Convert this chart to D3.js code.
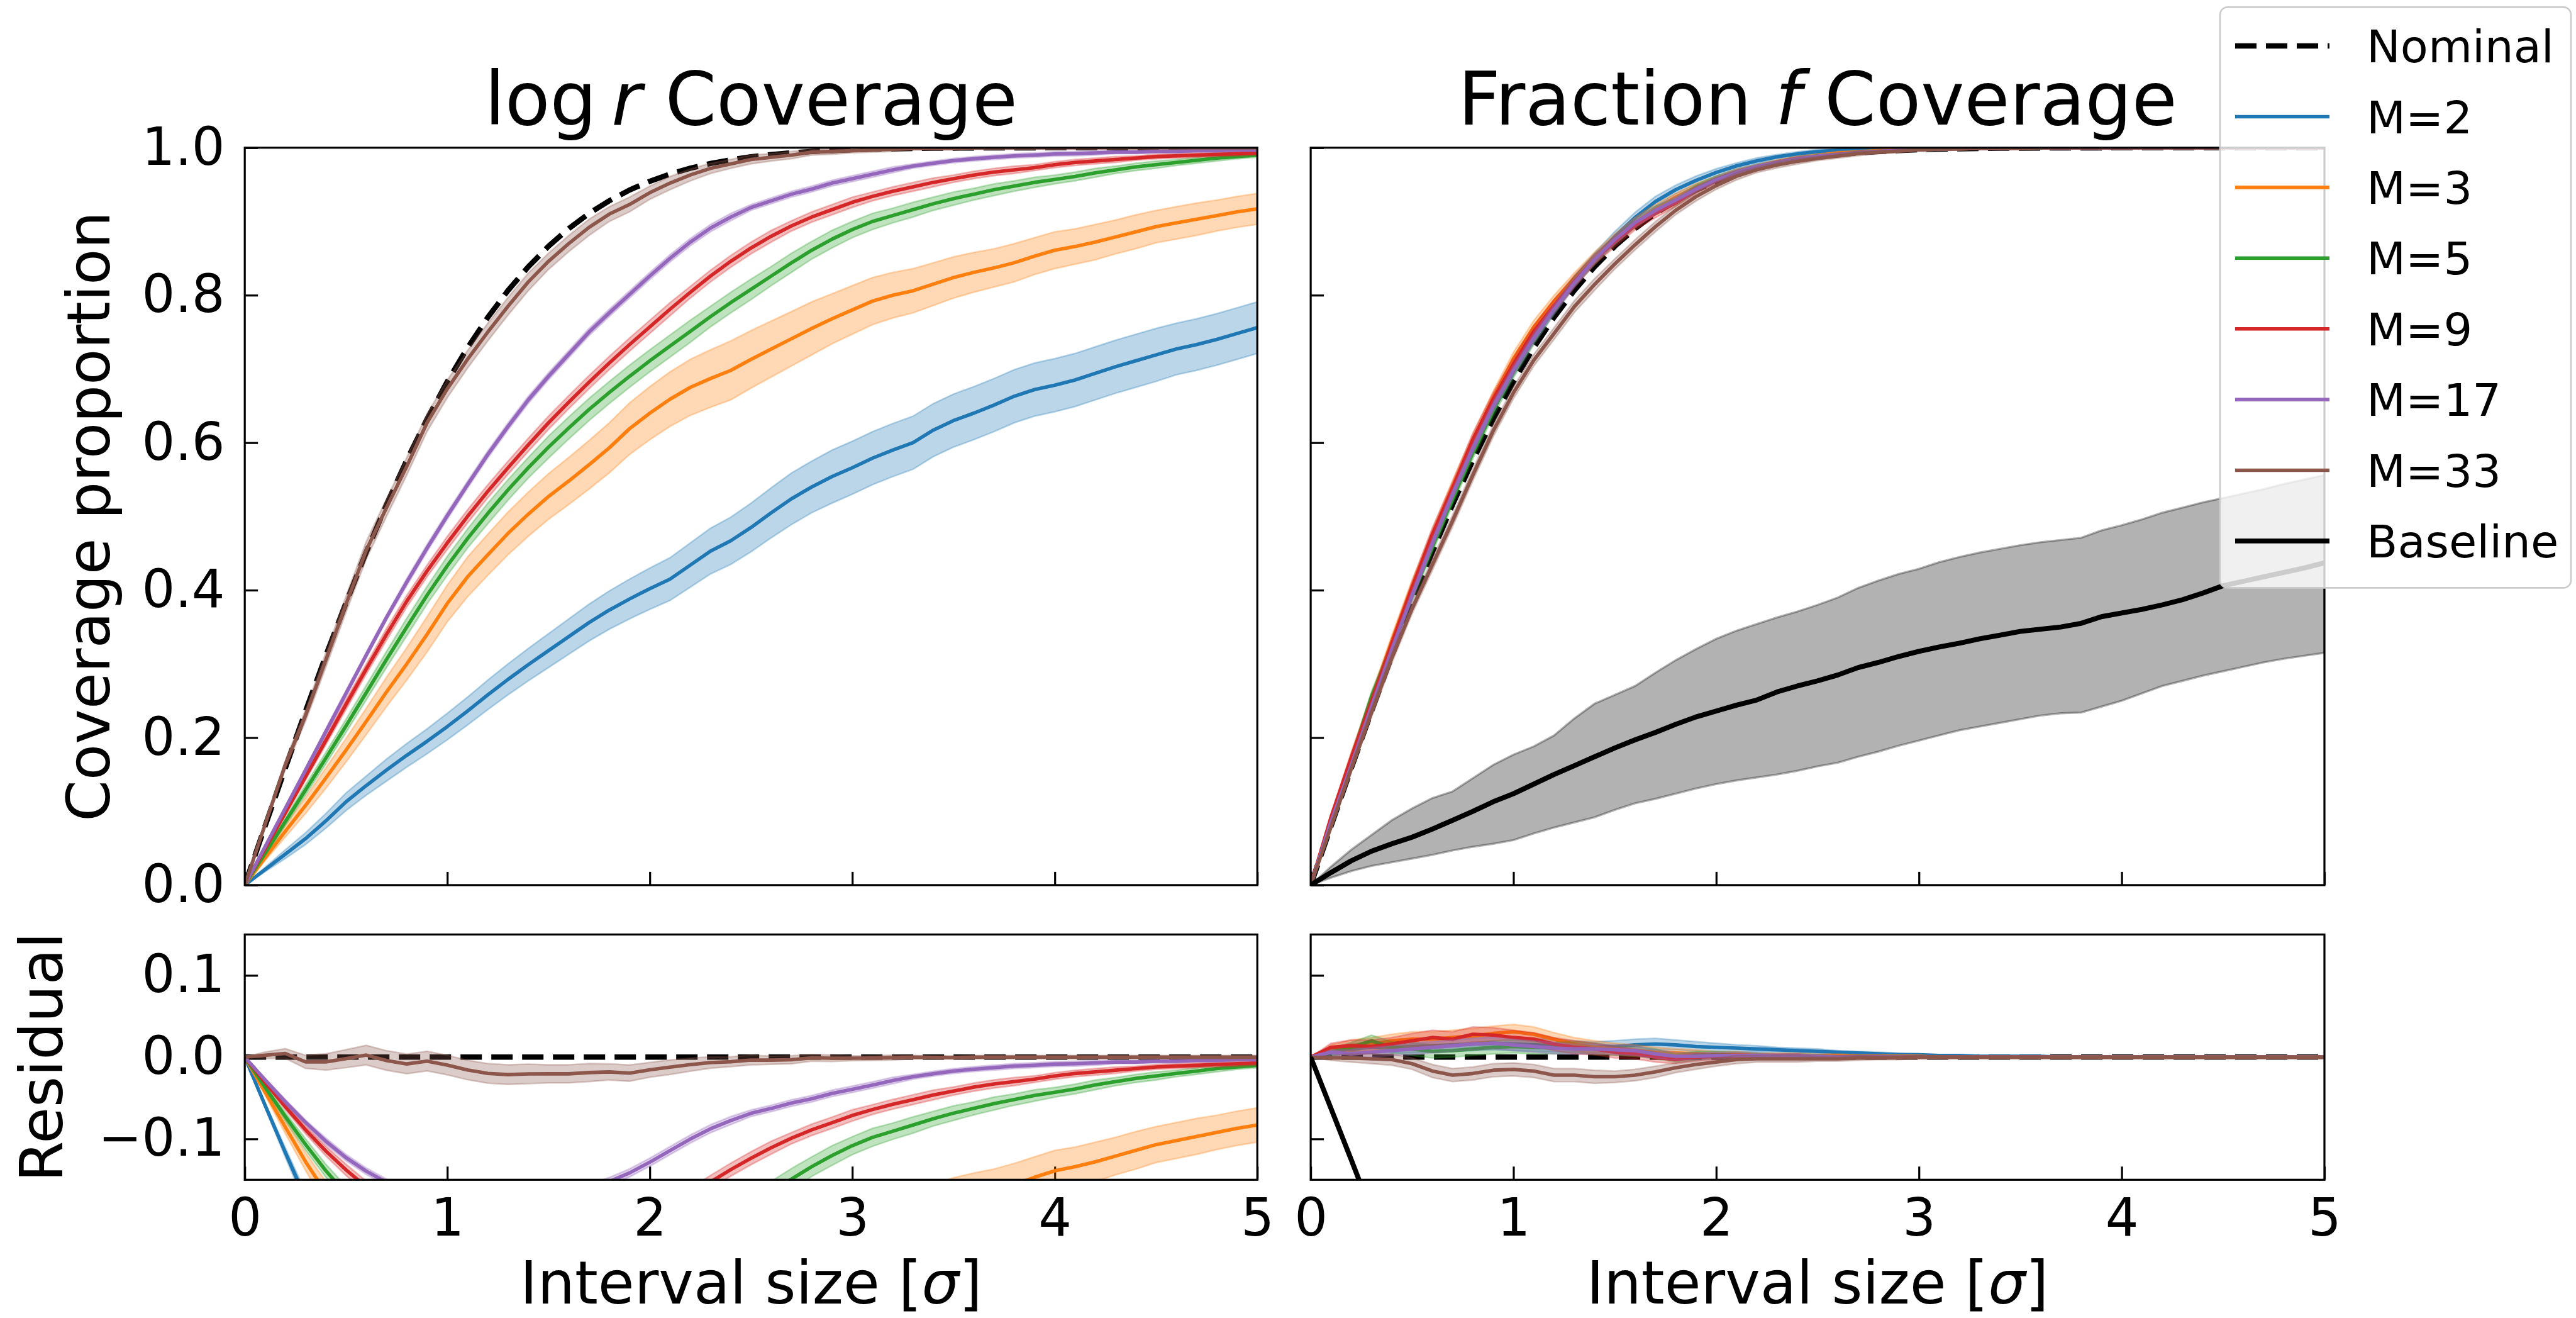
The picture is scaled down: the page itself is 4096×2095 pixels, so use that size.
<!DOCTYPE html>
<html><head><meta charset="utf-8">
<script src="https://cdn.jsdelivr.net/npm/d3@7"></script>
<style>html,body{margin:0;padding:0;background:#fff;} svg{display:block;} text{white-space:pre;}</style>
</head><body>
<svg id="chart" width="4096" height="2095"></svg>
<script>
// ---------------- DATA ----------------
const sigma = [0,0.1,0.2,0.3,0.4,0.5,0.6,0.7,0.8,0.9,1,1.1,1.2,1.3,1.4,1.5,1.6,1.7,1.8,1.9,2,2.1,2.2,2.3,2.4,2.5,2.6,2.7,2.8,2.9,3,3.1,3.2,3.3,3.4,3.5,3.6,3.7,3.8,3.9,4,4.1,4.2,4.3,4.4,4.5,4.6,4.7,4.8,4.9,5];
const xTicks = [0,1,2,3,4,5];
const yTicksMain = [0,0.2,0.4,0.6,0.8,1.0];
const yTicksRes = [-0.1,0,0.1];

const seriesNames = ["M=2","M=3","M=5","M=9","M=17","M=33"];
const seriesColors = ["#1f77b4","#ff7f0e","#2ca02c","#d62728","#9467bd","#8c564b"];

const nominal = [0,.0797,.1585,.2358,.3108,.3829,.4515,.5161,.5763,.6319,.6827,.7287,.7699,.8064,.8385,.8664,.8904,.9109,.9281,.9426,.9545,.9643,.9722,.9786,.9836,.9876,.9907,.9931,.9949,.9963,.9973,.9981,.9986,.9990,.9993,.9995,.9997,.9998,.9999,.9999,1,1,1,1,1,1,1,1,1,1,1];

// log r coverage (left panel)
const logrM2  = [0,.021,.042,.063,.087,.113,.135,.156,.176,.195,.215,.236,.258,.279,.299,.318,.337,.356,.373,.388,.402,.415,.434,.453,.467,.485,.505,.524,.540,.554,.566,.579,.590,.600,.617,.630,.640,.651,.663,.672,.678,.685,.694,.703,.711,.719,.727,.733,.740,.748,.756];
const logrM3  = [0,.037,.073,.108,.145,.183,.222,.262,.300,.340,.382,.418,.448,.477,.503,.527,.548,.570,.593,.619,.640,.659,.675,.687,.698,.713,.727,.741,.755,.768,.780,.792,.800,.806,.815,.824,.831,.837,.844,.853,.861,.866,.872,.879,.886,.893,.898,.903,.908,.913,.917];
const logrM5  = [0,.043,.086,.129,.172,.216,.261,.306,.350,.393,.433,.470,.504,.536,.566,.594,.620,.645,.668,.690,.711,.731,.751,.771,.790,.808,.826,.844,.861,.876,.889,.900,.908,.916,.924,.931,.937,.943,.948,.953,.957,.961,.966,.970,.974,.977,.980,.983,.986,.988,.990];
const logrM9  = [0,.049,.098,.147,.196,.245,.293,.340,.385,.426,.464,.500,.534,.566,.597,.627,.655,.682,.708,.733,.757,.781,.804,.826,.846,.864,.880,.894,.906,.916,.926,.934,.941,.947,.953,.958,.963,.967,.970,.973,.977,.980,.982,.984,.986,.988,.989,.990,.991,.992,.993];
const logrM17 = [0,.052,.104,.156,.208,.260,.312,.363,.411,.457,.501,.543,.584,.622,.658,.690,.720,.750,.776,.801,.826,.850,.872,.891,.906,.919,.928,.937,.944,.952,.958,.964,.970,.975,.979,.9825,.985,.987,.989,.990,.9915,.992,.993,.994,.994,.995,.995,.996,.996,.997,.997];
const logrM33 = [0,.082,.163,.230,.305,.381,.454,.512,.568,.627,.673,.713,.750,.785,.818,.846,.870,.892,.910,.923,.939,.952,.963,.972,.978,.984,.987,.990,.994,.995,.996,.997,.998,.999,.999,.999,.9997,.9998,.9999,.9999,1,1,1,1,1,1,1,1,1,1,1];

// half-widths of the shaded bands (left panel)
const logrBandM2  = [0,.003,.006,.008,.010,.012,.013,.015,.016,.017,.018,.019,.020,.021,.022,.023,.024,.025,.026,.027,.028,.029,.030,.031,.032,.033,.034,.035,.035,.036,.036,.036,.036,.036,.036,.036,.036,.036,.036,.036,.036,.036,.036,.036,.036,.036,.035,.035,.035,.035,.035];
const logrBandM3  = [0,.004,.008,.011,.014,.016,.018,.020,.022,.024,.025,.027,.028,.029,.030,.031,.032,.033,.034,.035,.036,.037,.038,.039,.040,.039,.038,.037,.036,.034,.033,.032,.031,.030,.029,.028,.027,.026,.026,.025,.025,.024,.024,.023,.023,.022,.022,.022,.021,.021,.021];
const logrBandM5  = [0,.003,.005,.007,.008,.009,.010,.011,.012,.012,.013,.013,.014,.014,.014,.015,.015,.015,.015,.015,.015,.015,.015,.014,.014,.014,.013,.013,.012,.012,.011,.011,.010,.010,.009,.009,.008,.008,.007,.007,.006,.006,.006,.005,.005,.005,.004,.004,.004,.003,.003];
const logrBandM9  = [0,.002,.004,.005,.006,.007,.007,.008,.008,.008,.009,.009,.009,.009,.009,.009,.009,.009,.009,.009,.009,.009,.008,.008,.008,.008,.008,.007,.007,.007,.007,.006,.006,.006,.006,.005,.005,.005,.005,.004,.004,.004,.004,.004,.003,.003,.003,.003,.003,.003,.003];
const logrBandM17 = [0,.002,.003,.003,.004,.004,.004,.004,.005,.005,.005,.005,.005,.005,.005,.005,.005,.005,.005,.005,.005,.005,.005,.005,.005,.004,.004,.004,.004,.004,.004,.004,.004,.003,.003,.003,.003,.003,.003,.003,.003,.003,.003,.002,.002,.002,.002,.002,.002,.002,.002];
const logrBandM33 = [0,.004,.006,.008,.010,.011,.012,.012,.012,.012,.012,.012,.012,.012,.012,.011,.011,.011,.010,.010,.009,.009,.008,.007,.006,.006,.005,.005,.004,.004,.003,.003,.003,.002,.002,.002,.002,.002,.002,.002,.002,.002,.002,.002,.002,.002,.002,.002,.002,.002,.002];

// fraction f: residual from nominal (coverage = nominal + residual)
const fracResM2  = [0,.006,.010,.012,.012,.013,.014,.015,.016,.017,.016,.015,.014,.013,.012,.013,.015,.016,.015,.013,.012,.011,.010,.009,.008,.007,.006,.005,.004,.003,.003,.002,.002,.001,.001,.001,.001,0,0,0,0,0,0,0,0,0,0,0,0,0,0];
const fracResM3  = [0,.010,.014,.016,.020,.022,.022,.024,.026,.029,.031,.028,.022,.016,.012,.010,.008,.006,.005,.004,.003,.003,.002,.002,.002,.002,.002,.001,.001,.001,.001,0,0,0,0,0,0,0,0,0,0,0,0,0,0,0,0,0,0,0,0];
const fracResM5  = [0,.006,.012,.020,.012,.010,.007,.008,.010,.012,.013,.012,.011,.012,.010,.008,.007,.004,-.001,.002,.003,.002,.002,.001,.001,.001,0,0,0,0,0,0,0,0,0,0,0,0,0,0,0,0,0,0,0,0,0,0,0,0,0];
const fracResM9  = [0,.012,.014,.013,.016,.020,.024,.022,.028,.027,.024,.022,.016,.012,.010,.006,.004,.000,-.003,.000,.001,.001,.001,.001,.001,0,0,0,0,0,0,0,0,0,0,0,0,0,0,0,0,0,0,0,0,0,0,0,0,0,0];
const fracResM17 = [0,.006,.004,.006,.008,.010,.012,.014,.016,.017,.015,.013,.011,.010,.010,.009,.008,.004,.001,.001,.002,.002,.002,.001,.001,.001,0,0,0,0,0,0,0,0,0,0,0,0,0,0,0,0,0,0,0,0,0,0,0,0,0];
const fracResM33 = [0,-.001,-.001,-.002,-.003,-.008,-.017,-.022,-.020,-.016,-.015,-.017,-.022,-.022,-.024,-.024,-.022,-.018,-.013,-.009,-.006,-.003,-.002,-.002,-.002,-.002,-.002,-.001,-.001,-.001,0,0,0,0,0,0,0,0,0,0,0,0,0,0,0,0,0,0,0,0,0];

const fracBandM2  = [0,.004,.006,.007,.007,.008,.008,.008,.008,.008,.008,.008,.008,.007,.007,.007,.007,.007,.006,.006,.005,.004,.004,.003,.003,.003,.002,.002,.002,.002,.001,.001,.001,.001,.001,.001,0,0,0,0,0,0,0,0,0,0,0,0,0,0,0];
const fracBandM3  = [0,.005,.007,.008,.008,.009,.009,.009,.009,.009,.009,.009,.008,.008,.008,.007,.007,.006,.005,.005,.004,.004,.003,.003,.003,.002,.002,.002,.002,.001,.001,.001,.001,.001,0,0,0,0,0,0,0,0,0,0,0,0,0,0,0,0,0];
const fracBandM5  = [0,.004,.006,.007,.007,.008,.008,.008,.008,.008,.008,.008,.007,.007,.007,.006,.006,.006,.005,.005,.004,.004,.003,.003,.003,.002,.002,.002,.002,.001,.001,.001,.001,0,0,0,0,0,0,0,0,0,0,0,0,0,0,0,0,0,0];
const fracBandM9  = [0,.005,.007,.008,.008,.009,.009,.009,.009,.009,.009,.008,.008,.008,.007,.007,.006,.006,.005,.005,.004,.004,.003,.003,.003,.002,.002,.002,.002,.001,.001,.001,.001,0,0,0,0,0,0,0,0,0,0,0,0,0,0,0,0,0,0];
const fracBandM17 = [0,.003,.005,.006,.006,.007,.007,.007,.007,.007,.007,.007,.007,.006,.006,.006,.006,.005,.005,.004,.004,.004,.003,.003,.003,.002,.002,.002,.002,.001,.001,.001,.001,0,0,0,0,0,0,0,0,0,0,0,0,0,0,0,0,0,0];
const fracBandM33 = [0,.003,.005,.006,.007,.007,.008,.008,.008,.008,.008,.008,.008,.008,.008,.007,.007,.007,.006,.006,.005,.005,.004,.004,.004,.003,.003,.003,.002,.002,.002,.002,.001,.001,.001,0,0,0,0,0,0,0,0,0,0,0,0,0,0,0,0];

// baseline (fraction f panel)
const baseline   = [0,.017,.033,.046,.056,.065,.076,.088,.100,.113,.124,.137,.150,.162,.174,.186,.197,.207,.218,.228,.236,.244,.251,.262,.270,.277,.285,.295,.302,.310,.317,.323,.328,.334,.339,.344,.347,.350,.355,.364,.369,.374,.380,.387,.396,.406,.412,.418,.424,.430,.437];
const baselineHi = [0,.025,.048,.068,.088,.104,.118,.127,.145,.163,.177,.188,.203,.226,.246,.258,.270,.288,.305,.320,.334,.345,.354,.363,.371,.380,.390,.403,.413,.422,.429,.438,.445,.451,.456,.461,.465,.468,.471,.481,.488,.496,.505,.512,.519,.525,.531,.537,.544,.550,.556];
const baselineLo = [0,.010,.019,.026,.031,.036,.041,.047,.052,.056,.061,.070,.078,.085,.092,.102,.111,.117,.124,.131,.137,.142,.146,.150,.155,.161,.166,.174,.181,.189,.196,.203,.210,.215,.220,.225,.230,.233,.234,.242,.250,.260,.270,.277,.284,.290,.296,.302,.307,.311,.315];

// ---------------- DRAWING ----------------
const FONT = "'DejaVu Sans', 'Liberation Sans', sans-serif";
const LW = 5.6, NOMW = 8.5, BASEW = 7.9, SPW = 3.2, TICKL = 21, TICKW = 3.2;
const FS_TICK = 83, FS_LABEL = 94, FS_TITLE = 117, FS_LEG = 72;

const svg = d3.select('#chart');
svg.append('rect').attr('width',4096).attr('height',2095).attr('fill','#fff');
const defs = svg.append('defs');

const xLeft  = d3.scaleLinear().domain([0,5]).range([389.2,1999.2]);
const xRight = d3.scaleLinear().domain([0,5]).range([2084.1,3696]);
const yTop   = d3.scaleLinear().domain([0,1]).range([1406.9,234.8]);
const yBot   = d3.scaleLinear().domain([-0.15,0.15]).range([1875.3,1485.4]);

const logrCov  = [logrM2,logrM3,logrM5,logrM9,logrM17,logrM33];
const logrBand = [logrBandM2,logrBandM3,logrBandM5,logrBandM9,logrBandM17,logrBandM33];
const fracRes  = [fracResM2,fracResM3,fracResM5,fracResM9,fracResM17,fracResM33];
const fracBand = [fracBandM2,fracBandM3,fracBandM5,fracBandM9,fracBandM17,fracBandM33];
const fracCov  = fracRes.map(r => r.map((v,i) => nominal[i] + v));

let clipN = 0;
function makePanel(x, y, yTicks, showYLabels, showXLabels) {
  const [x0,x1] = x.range(); const [yb,yt] = y.range();
  const id = 'clip' + (clipN++);
  defs.append('clipPath').attr('id', id).append('rect')
    .attr('x', x0).attr('y', yt).attr('width', x1 - x0).attr('height', yb - yt);
  const g = svg.append('g');
  const ay = d3.axisLeft(y).tickValues(yTicks).tickSizeInner(-TICKL).tickSizeOuter(0).tickPadding(31.6)
    .tickFormat(showYLabels ? d3.format('.1f') : () => '');
  const gy = g.append('g').attr('transform', `translate(${x0},0)`).call(ay);
  const ax = d3.axisBottom(x).tickValues(xTicks).tickSizeInner(-TICKL).tickSizeOuter(0).tickPadding(30)
    .tickFormat(showXLabels ? d3.format('d') : () => '');
  const gx = g.append('g').attr('transform', `translate(0,${yb})`).call(ax);
  [gx, gy].forEach(a => {
    a.select('.domain').remove();
    a.attr('font-family', FONT).attr('font-size', FS_TICK);
    a.selectAll('line').attr('stroke', '#000').attr('stroke-width', TICKW);
    a.selectAll('text').attr('fill', '#000');
  });
  const plot = g.append('g').attr('clip-path', `url(#${id})`);
  return {g, plot, x, y, x0, x1, yb, yt};
}
function finishPanel(p) {
  p.g.append('rect').attr('x', p.x0).attr('y', p.yt).attr('width', p.x1 - p.x0).attr('height', p.yb - p.yt)
    .attr('fill', 'none').attr('stroke', '#000').attr('stroke-width', SPW);
}
function lineGen(p, fn) {
  return d3.line().x((d,i) => p.x(sigma[i])).y((d,i) => p.y(fn(d,i)));
}
function areaGen(p, lo, hi) {
  return d3.area().x((d,i) => p.x(sigma[i])).y0((d,i) => p.y(lo(d,i))).y1((d,i) => p.y(hi(d,i)));
}
function drawNominal(p, residual) {
  p.plot.append('path').datum(nominal)
    .attr('d', lineGen(p, (d) => residual ? d - d : d))
    .attr('fill', 'none').attr('stroke', '#000').attr('stroke-width', NOMW)
    .attr('stroke-dasharray', '34,15');
}
function drawSeries(p, covs, bands, residual) {
  covs.forEach((c, k) => {
    const col = seriesColors[k];
    const off = (i) => residual ? nominal[i] : 0;
    p.plot.append('path').datum(c)
      .attr('d', areaGen(p, (d,i) => d - bands[k][i] - off(i), (d,i) => d + bands[k][i] - off(i)))
      .attr('fill', col).attr('fill-opacity', 0.3)
      .attr('stroke', col).attr('stroke-opacity', 0.3).attr('stroke-width', 2.5);
    p.plot.append('path').datum(c)
      .attr('d', lineGen(p, (d,i) => d - off(i)))
      .attr('fill', 'none').attr('stroke', col).attr('stroke-width', LW).attr('stroke-linejoin','round');
  });
}
function drawBaseline(p, residual) {
  if (!residual) {
    p.plot.append('path').datum(baseline)
      .attr('d', areaGen(p, (d,i) => baselineLo[i], (d,i) => baselineHi[i]))
      .attr('fill', '#000').attr('fill-opacity', 0.3)
      .attr('stroke', '#000').attr('stroke-opacity', 0.3).attr('stroke-width', 3.4);
  }
  p.plot.append('path').datum(baseline)
    .attr('d', lineGen(p, (d,i) => residual ? d - nominal[i] : d))
    .attr('fill', 'none').attr('stroke', '#000').attr('stroke-width', BASEW).attr('stroke-linejoin','round');
}

const pTL = makePanel(xLeft, yTop, yTicksMain, true, false);
drawNominal(pTL, false); drawSeries(pTL, logrCov, logrBand, false); finishPanel(pTL);

const pTR = makePanel(xRight, yTop, yTicksMain, false, false);
drawNominal(pTR, false); drawSeries(pTR, fracCov, fracBand, false); drawBaseline(pTR, false); finishPanel(pTR);

const pBL = makePanel(xLeft, yBot, yTicksRes, true, true);
drawNominal(pBL, true); drawSeries(pBL, logrCov, logrBand, true); finishPanel(pBL);

const pBR = makePanel(xRight, yBot, yTicksRes, false, true);
drawNominal(pBR, true); drawSeries(pBR, fracCov, fracBand, true); drawBaseline(pBR, true); finishPanel(pBR);

function title(cx, parts) {
  const t = svg.append('text').attr('x', cx).attr('y', 198).attr('text-anchor', 'middle')
    .attr('font-family', FONT).attr('font-size', FS_TITLE).attr('fill', '#000');
  parts.forEach(([s, it]) => t.append('tspan').text(s).attr('font-style', it ? 'italic' : 'normal'));
}
title((389.2 + 1999.2) / 2, [["log\u2009", false], ["r", true], [" Coverage", false]]);
title((2084.1 + 3696) / 2, [["Fraction ", false], ["f", true], [" Coverage", false]]);

function ylabel(x, y, s) {
  svg.append('text').attr('transform', `translate(${x},${y}) rotate(-90)`).attr('text-anchor', 'middle')
    .attr('font-family', FONT).attr('font-size', FS_LABEL).attr('fill', '#000').text(s);
}
ylabel(174, (1406.9 + 234.8) / 2, 'Coverage proportion');
ylabel(99, (1875.3 + 1485.4) / 2, 'Residual');
function xlabel(cx) {
  const t = svg.append('text').attr('x', cx).attr('y', 2072).attr('text-anchor', 'middle')
    .attr('font-family', FONT).attr('font-size', FS_LABEL).attr('fill', '#000');
  t.append('tspan').text('Interval size [');
  t.append('tspan').text('\u03c3').attr('font-style', 'italic');
  t.append('tspan').text(']');
}
xlabel((389.2 + 1999.2) / 2);
xlabel((2084.1 + 3696) / 2);

const legNames = ["Nominal"].concat(seriesNames, ["Baseline"]);
const legColors = ["#000"].concat(seriesColors, ["#000"]);
const leg = svg.append('g');
leg.append('rect').attr('x', 3530).attr('y', 11.4).attr('width', 558).attr('height', 923).attr('rx', 12)
  .attr('fill', '#fff').attr('fill-opacity', 0.8).attr('stroke', '#cccccc').attr('stroke-width', 2.7);
const legY = d3.scaleLinear().domain([0, 7]).range([73.1, 859.9]);
legNames.forEach((name, i) => {
  const cy = legY(i);
  const ln = leg.append('line').attr('x1', 3554).attr('x2', 3704).attr('y1', cy).attr('y2', cy)
    .attr('stroke', legColors[i]).attr('stroke-width', i === 0 ? NOMW : (i === 7 ? BASEW : LW));
  if (i === 0) ln.attr('stroke-dasharray', '34,15');
  leg.append('text').attr('x', 3763).attr('y', cy + 26).attr('font-family', FONT).attr('font-size', FS_LEG)
    .attr('fill', '#000').text(name);
});
</script>
</body></html>
